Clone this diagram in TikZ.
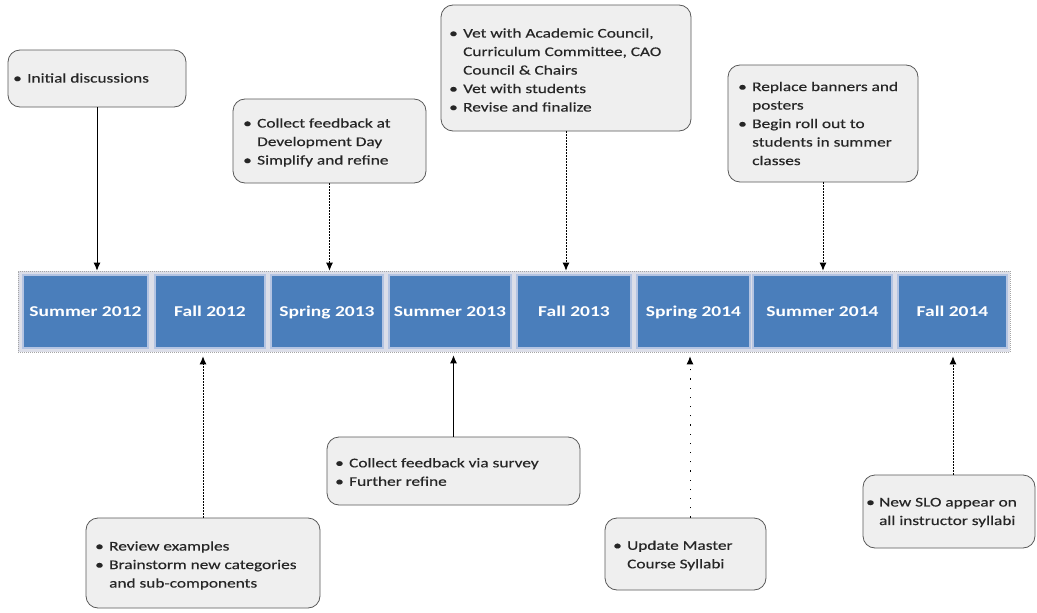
\documentclass[tikz,border=0pt]{standalone}
\usepackage{fontspec}
\setmainfont[FakeStretch=1.3, UprightFeatures={FakeBold=0.35}]{Carlito}
\usetikzlibrary{arrows.meta}
\definecolor{phaseblue}{HTML}{4A7EBB}
\definecolor{phaseedge}{HTML}{B4C4E2}
\definecolor{barfill}{HTML}{DCDEE8}
\definecolor{notefill}{HTML}{EFEFEF}
\newcommand{\bitem}[1]{\makebox[14pt][l]{\textbullet}#1}
\newcommand{\bcont}[1]{\hspace*{14pt}#1}
\tikzset{
  note/.style={draw=black!65, fill=notefill, line width=0.8pt, rounded corners=12pt, inner sep=0pt},
  notetext/.style={anchor=west, inner sep=0pt, align=left, text=black!85, font=\fontsize{13.3}{18.5}\selectfont},
  phase/.style={fill=phaseblue, draw=phaseedge, line width=1.4pt, minimum height=73pt, inner sep=0pt,
    text=white, text height=10.5pt, text depth=1pt, font=\fontsize{15}{18}\selectfont\bfseries},
  bar/.style={fill=barfill, draw=black!35, dash pattern=on 1pt off 1pt, line width=0.6pt, inner sep=0pt},
  link/.style={line width=0.9pt, -{Latex[length=8pt,width=7pt]}},
  dotlink/.style={link, dash pattern=on 1.2pt off 1.8pt},
  sparselink/.style={link, dash pattern=on 1.2pt off 8pt},
}
\begin{document}
\begin{tikzpicture}[x=1pt, y=-1pt]
\useasboundingbox[fill=white] (0,0) rectangle (1037,613);

% timeline bar and its phases
\node[bar, minimum width=992pt, minimum height=81pt] (tl) at (514,311.5) {};
\node[phase, minimum width=125pt] (p1) at (85.5,311.5) {Summer 2012};
\node[phase, minimum width=110pt] (p2) at (210,311.5) {Fall 2012};
\node[phase, minimum width=112pt] (p3) at (327,311.5) {Spring 2013};
\node[phase, minimum width=122pt] (p4) at (450,311.5) {Summer 2013};
\node[phase, minimum width=114pt] (p5) at (574,311.5) {Fall 2013};
\node[phase, minimum width=113pt] (p6) at (693.5,311.5) {Spring 2014};
\node[phase, minimum width=139pt] (p7) at (822.5,311.5) {Summer 2014};
\node[phase, minimum width=109pt] (p8) at (952.5,311.5) {Fall 2014};

% notes above the bar
\node[note, minimum width=178pt, minimum height=57pt] (nA) at (97,78.5) {};
\node[notetext] (tA) at (13,78) {\bitem{Initial discussions}};

\node[note, minimum width=193pt, minimum height=84pt] (nB) at (329.5,141) {};
\node[notetext] (tB) at (243,142.5) {\bitem{Collect feedback at}\\\bcont{Development Day}\\\bitem{Simplify and refine}};

\node[note, minimum width=250pt, minimum height=126pt] (nC) at (566,68) {};
\node[notetext] (tC) at (449,70) {\bitem{Vet with Academic Council,}\\\bcont{Curriculum Committee, CAO}\\\bcont{Council \& Chairs}\\\bitem{Vet with students}\\\bitem{Revise and finalize}};

\node[note, minimum width=190pt, minimum height=117pt] (nD) at (823,123.5) {};
\node[notetext] (tD) at (738,123.5) {\bitem{Replace banners and}\\\bcont{posters}\\\bitem{Begin roll out to}\\\bcont{students in summer}\\\bcont{classes}};

% notes below the bar
\node[note, minimum width=234pt, minimum height=90pt] (nE) at (203,563) {};
\node[notetext] (tE) at (95,565.5) {\bitem{Review examples}\\\bitem{Brainstorm new categories}\\\bcont{and sub-components}};

\node[note, minimum width=253pt, minimum height=68pt] (nF) at (453.5,471) {};
\node[notetext] (tF) at (335,472) {\bitem{Collect feedback via survey}\\\bitem{Further refine}};

\node[note, minimum width=161pt, minimum height=72pt] (nG) at (685.5,554) {};
\node[notetext] (tG) at (613,555.5) {\bitem{Update Master}\\\bcont{Course Syllabi}};

\node[note, minimum width=172pt, minimum height=73pt] (nH) at (949,511.5) {};
\node[notetext] (tH) at (866,512.5) {\makebox[13pt][l]{\textbullet}New SLO appear on\\\hspace*{13pt}all instructor syllabi};

% connectors
\draw[link] (nA.south) -- (nA.south |- tl.north);
\draw[dotlink] (nB.south) -- (nB.south |- tl.north);
\draw[dotlink] (nC.south) -- (nC.south |- tl.north);
\draw[dotlink] (nD.south) -- (nD.south |- tl.north);
\draw[dotlink, shorten >=4pt] (nE.north) -- (nE.north |- tl.south);
\draw[link, shorten >=3pt] (nF.north) -- (nF.north |- tl.south);
\draw[sparselink, shorten >=4pt] ([xshift=4.5pt]nG.north) -- ([xshift=4.5pt]nG.north |- tl.south);
\draw[dotlink, shorten >=4pt] ([xshift=4pt]nH.north) -- ([xshift=4pt]nH.north |- tl.south);
\end{tikzpicture}
\end{document}
